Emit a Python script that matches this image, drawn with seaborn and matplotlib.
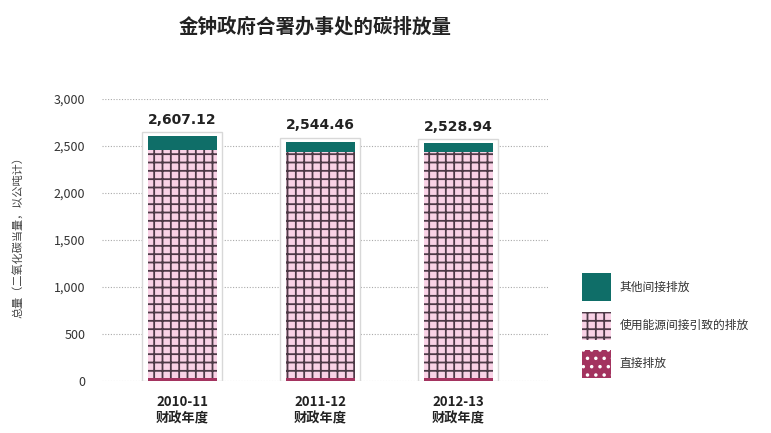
import matplotlib
matplotlib.use("Agg")
import matplotlib.pyplot as plt
import matplotlib.patches as mpatches
import seaborn as sns
import pandas as pd
import numpy as np

years = ["2010-11\n财政年度", "2011-12\n财政年度", "2012-13\n财政年度"]
totals = [2607.12, 2544.46, 2528.94]
direct = [35, 30, 30]
other_indirect = [150, 110, 95]
series_names = ["其他间接排放", "使用能源间接引致的排放", "直接排放"]
title = "金钟政府合署办事处的碳排放量"
ylabel = "总量（二氧化碳当量，以公吨计）"
yticks = [0, 500, 1000, 1500, 2000, 2500, 3000]

sns.set_theme(style="white")
plt.rcParams['font.family'] = ['Noto Sans CJK SC', 'DejaVu Sans']
plt.rcParams['hatch.linewidth'] = 1.3

teal = "#0f6e68"
pink = "#f9d2e6"
gridc = "#4d3a47"
magenta = "#a3335f"

direct_plus_energy = [t - o for t, o in zip(totals, other_indirect)]

df = pd.DataFrame({"year": years, "total": totals,
                   "mid": direct_plus_energy, "direct": direct})

fig = plt.figure(figsize=(7.71, 4.33), dpi=100)
ax = fig.add_axes([102/771, 1-381/433, (548-102)/771, (381-99)/433])

# white frame behind bars
frame = [t + 45 for t in totals]
sns.barplot(data=df.assign(frame=frame), x="year", y="frame", color="white",
            width=0.58, edgecolor="#d8d8d8", linewidth=1.0, ax=ax, zorder=2,
            saturation=1)
sns.barplot(data=df, x="year", y="total", color=teal, width=0.5,
            linewidth=0, ax=ax, zorder=3, saturation=1)
sns.barplot(data=df, x="year", y="mid", color=pink, width=0.5,
            edgecolor=gridc, linewidth=0, hatch="++", ax=ax, zorder=4,
            saturation=1)
sns.barplot(data=df, x="year", y="direct", color=magenta, width=0.5,
            edgecolor="white", linewidth=0, hatch="..", ax=ax, zorder=5,
            saturation=1)
for p in ax.patches[6:9]:
    p.set_facecolor(pink); p.set_edgecolor(gridc); p.set_linewidth(0)
for p in ax.patches[9:12]:
    p.set_facecolor(magenta); p.set_edgecolor("white"); p.set_linewidth(0)

for i, t in enumerate(totals):
    ax.text(i, t + 100, f"{t:,.2f}", ha="center", va="bottom",
            fontsize=10, fontweight="bold", color="#222222",
            family=['DejaVu Sans'])

ax.set_ylim(0, 3000)
ax.set_xlim(-0.58, 2.65)
ax.set_yticks(yticks)
ax.set_yticklabels([f"{v:,}" for v in yticks], fontsize=9, color="#333333")
ax.yaxis.grid(True, linestyle=(0, (1, 1.5)), color="#aaaaaa", linewidth=0.8)
ax.set_axisbelow(True)
for s in ax.spines.values():
    s.set_visible(False)
ax.tick_params(axis="y", length=0, pad=12)
ax.tick_params(axis="x", length=0, pad=10)
for lab in ax.get_xticklabels():
    lab.set_fontweight("bold"); lab.set_fontsize(9.5); lab.set_color("#222222")
ax.set_xlabel("")
ax.set_ylabel("")
fig.text(0.023, 1-235/433, ylabel, rotation=90, ha="center", va="center",
         fontsize=8, color="#444444")
fig.text(315/771, 1-27/433, title, ha="center", va="center",
         fontsize=14, fontweight="bold", color="#222222")

handles = [
    mpatches.Patch(facecolor=teal, edgecolor=teal, linewidth=0),
    mpatches.Patch(facecolor=pink, edgecolor=gridc, hatch="++", linewidth=0),
    mpatches.Patch(facecolor=magenta, edgecolor="white", hatch="..", linewidth=0),
]
fig.legend(handles, series_names, loc="upper left",
           bbox_to_anchor=(574/771, 1-265/433), frameon=False,
           fontsize=8.5, handlelength=2.45, handleheight=3.3,
           labelspacing=0.85, handletextpad=0.7, labelcolor="#333333",
           borderaxespad=0.3)

fig.savefig("out.png", dpi=100)
